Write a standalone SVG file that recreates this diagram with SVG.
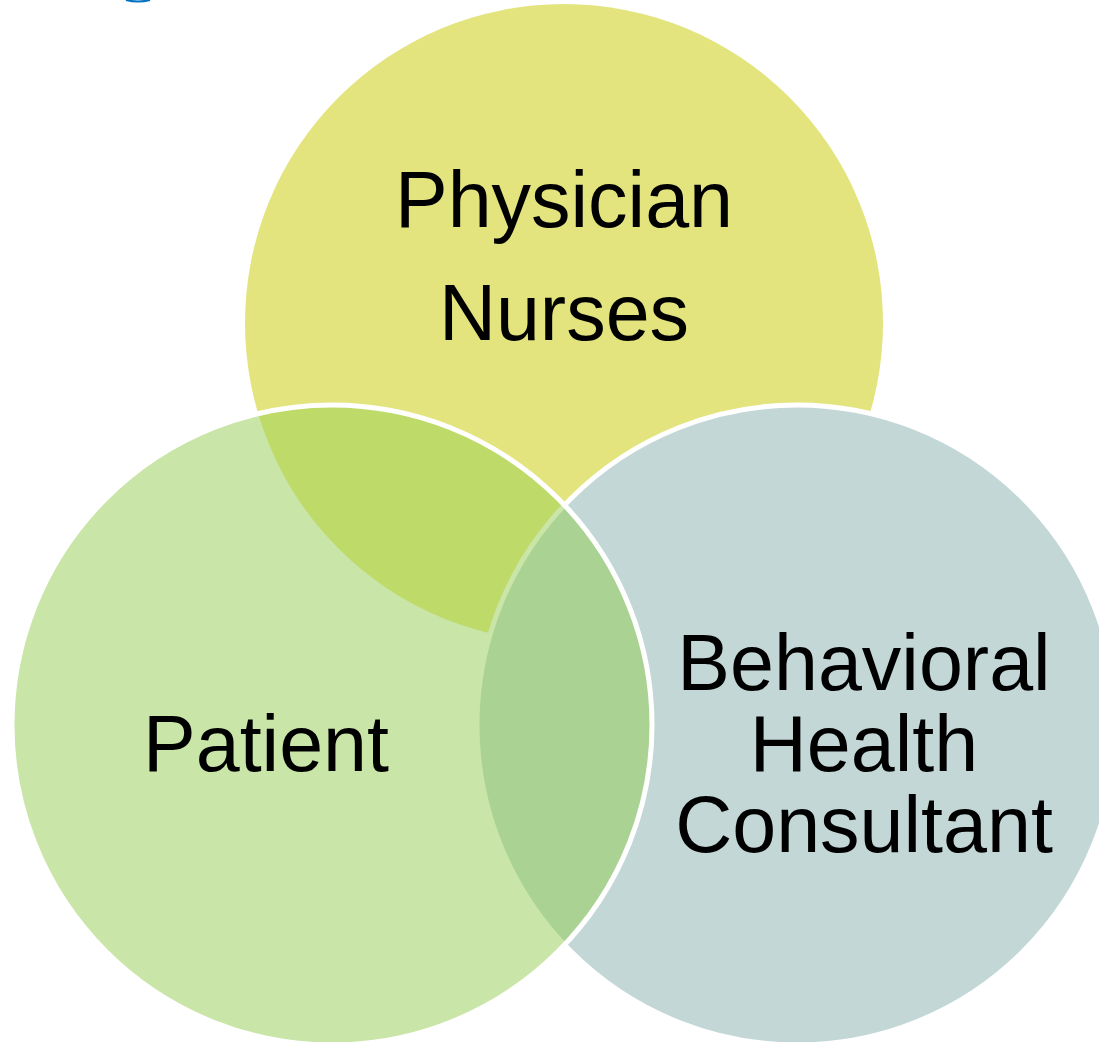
<svg xmlns="http://www.w3.org/2000/svg" width="1099" height="1042" viewBox="0 0 1099 1042">
  <style>
    .lbl { font-family: "Liberation Sans", Arial, sans-serif; font-size: 79px; fill: #000; text-anchor: middle; }
    .ring { fill: none; stroke: #FFFFFF; stroke-width: 5; }
  </style>
  <defs>
    <clipPath id="clipLeft"><circle cx="332" cy="725" r="320"/></clipPath>
    <clipPath id="clipRightInner"><circle cx="797" cy="725" r="317.5"/></clipPath>
    <mask id="notRight" maskUnits="userSpaceOnUse" x="0" y="0" width="1099" height="1042">
      <rect x="0" y="0" width="1099" height="1042" fill="#fff"/>
      <circle cx="797" cy="725" r="322.5" fill="#000"/>
    </mask>
  </defs>
  <rect width="1099" height="1042" fill="#FFFFFF"/>
  <path d="M126 0 Q138 3 150 0" fill="none" stroke="#0070C0" stroke-width="2"/>

  <g id="node-physician">
    <circle cx="564" cy="323" r="319" fill="#E3E47E"/>
    <text class="lbl" x="564" y="227">Physician</text>
    <text class="lbl" x="564" y="340">Nurses</text>
  </g>

  <g id="node-bhc">
    <circle cx="797" cy="725" r="320" fill="#C3D7D7"/>
    <circle class="ring" cx="797" cy="725" r="320"/>
    <text class="lbl" x="864" y="690">Behavioral</text>
    <text class="lbl" x="864" y="771">Health</text>
    <text class="lbl" x="864" y="852">Consultant</text>
  </g>

  <g id="node-patient">
    <circle cx="332" cy="725" r="320" fill="#C9E5A7"/>
    <g id="overlaps">
      <g mask="url(#notRight)">
        <circle cx="564" cy="323" r="319" fill="#BEDB6A" clip-path="url(#clipLeft)"/>
      </g>
      <circle cx="332" cy="725" r="320" fill="#A9D293" clip-path="url(#clipRightInner)"/>
    </g>
    <circle class="ring" cx="332" cy="725" r="320"/>
    <text class="lbl" x="266" y="771">Patient</text>
  </g>
</svg>
